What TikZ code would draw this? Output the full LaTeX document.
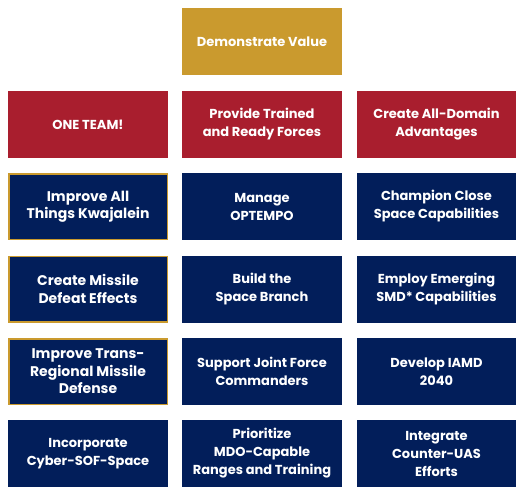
\documentclass[tikz,border=0pt]{standalone}
\usepackage{fontspec}
\setsansfont{Poppins}
\usepackage{xcolor}
\usepackage{tikz}
\usetikzlibrary{positioning}
\definecolor{lcGold}{RGB}{202, 154, 46}
\definecolor{lcRed}{RGB}{169, 30, 46}
\definecolor{lcNavy}{RGB}{2, 30, 90}
\tikzset{
    base/.style={
        font=\sffamily\bfseries\fontsize{13}{18}\selectfont,
        align=center,
        text=white,
        rectangle,
        minimum width=160pt,
        minimum height=67pt,
        inner sep=0pt
    },
    value/.style={
        base,
        fill=lcGold
    },
    pillar/.style={
        base,
        fill=lcRed
    },
    task/.style={
        base,
        fill=lcNavy
    },
    focus/.style={
        task,
        font=\sffamily\bfseries\fontsize{14}{17.5}\selectfont,
        draw=lcGold,
        line width=1.5pt,
        minimum width=158.5pt,
        minimum height=65.5pt
    }
}
\begin{document}
\begin{tikzpicture}[x=1pt,y=-1pt]
  \useasboundingbox (0,0) rectangle (516,491);

  % Top
  \node[value] (value) at (262,41.5) {Demonstrate Value};

  % Pillars
  \node[pillar] (team) at (88,124.5) {ONE TEAM!};
  \node[pillar] (forces) at (262,124.5) {Provide Trained\\and Ready Forces};
  \node[pillar] (domain) at (436.5,124.5) {Create All-Domain\\Advantages};

  % Left column
  \node[focus] (kwaj) at (88,206.5) {Improve All\\Things Kwajalein};
  \node[focus] (defeat) at (88,289) {Create Missile\\Defeat Effects};
  \node[focus] (trans) at (88,371.5) {Improve Trans-\\Regional Missile\\Defense};
  \node[task] (cyber) at (88,453.5) {Incorporate\\Cyber-SOF-Space};

  % Middle column
  \node[task] (optempo) at (262,206.5) {Manage\\OPTEMPO};
  \node[task] (branch) at (262,289) {Build the\\Space Branch};
  \node[task] (joint) at (262,371.5) {Support Joint Force\\Commanders};
  \node[task] (ranges) at (262,453.5) {Prioritize\\MDO-Capable\\Ranges and Training};

  % Right column
  \node[task] (space) at (436.5,206.5) {Champion Close\\Space Capabilities};
  \node[task] (smd) at (436.5,289) {Employ Emerging\\SMD* Capabilities};
  \node[task] (iamd) at (436.5,371.5) {Develop IAMD\\2040};
  \node[task] (cuas) at (436.5,453.5) {Integrate\\Counter-UAS\\Efforts};
\end{tikzpicture}
\end{document}
